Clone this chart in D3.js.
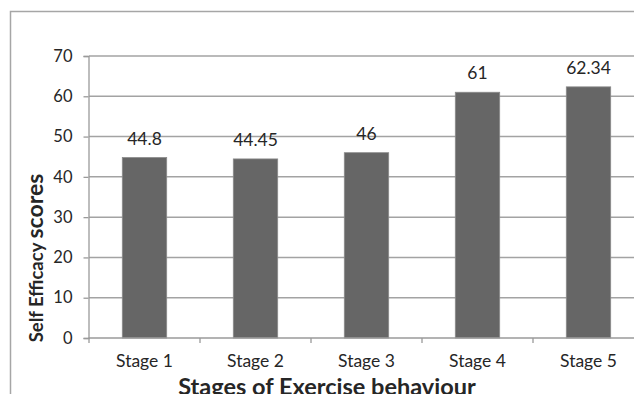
<!DOCTYPE html>
<html>
<head>
<meta charset="utf-8">
<script src="https://cdn.jsdelivr.net/npm/d3@7"></script>
<style>
  html, body { margin: 0; padding: 0; background: #fff; }
  svg { display: block; }
  text { font-family: Lato, "Liberation Sans", sans-serif; fill: #262626; }
</style>
</head>
<body>
<svg id="chart" width="634" height="394"></svg>
<script>
// Mean self-efficacy score for each stage of exercise behaviour
const stages = ["Stage 1", "Stage 2", "Stage 3", "Stage 4", "Stage 5"];
const scores = [44.8, 44.45, 46, 61, 62.34];
const scoreLabels = ["44.8", "44.45", "46", "61", "62.34"];
const yTicks = [0, 10, 20, 30, 40, 50, 60, 70];

const svg = d3.select("#chart");

// outer chart frame (runs off the right and bottom edges)
svg.append("rect")
  .attr("x", 10.5).attr("y", 11.5)
  .attr("width", 700).attr("height", 500)
  .attr("fill", "none")
  .attr("stroke", "#a6a6a6")
  .attr("stroke-width", 1.5);

const x = d3.scaleBand()
  .domain(stages)
  .range([89, 644])
  .paddingInner(0.6)
  .paddingOuter(0.3);

const y = d3.scaleLinear().domain([0, 70]).range([338, 56]);

// horizontal gridlines
svg.append("g").selectAll("line")
  .data(yTicks.filter(d => d > 0))
  .join("line")
  .attr("x1", 89).attr("x2", 644)
  .attr("y1", d => y(d)).attr("y2", d => y(d))
  .attr("stroke", "#a3a3a3")
  .attr("stroke-width", 1.5);

// y axis
const yAxis = svg.append("g")
  .attr("transform", "translate(88.5,0)")
  .call(d3.axisLeft(y).tickValues(yTicks).tickSize(5).tickPadding(11).tickFormat(d3.format("d")));
yAxis.select(".domain").attr("stroke", "#9a9a9a").attr("stroke-width", 1.3);
yAxis.selectAll(".tick line").attr("stroke", "#9a9a9a").attr("stroke-width", 1.3);
yAxis.selectAll(".tick text")
  .attr("font-size", 16.5)
  .attr("font-family", "Lato, 'Liberation Sans', sans-serif")
  .attr("fill", "#262626");

// bars
svg.append("g").selectAll("rect")
  .data(stages)
  .join("rect")
  .attr("x", d => x(d))
  .attr("width", x.bandwidth())
  .attr("y", (d, i) => y(scores[i]))
  .attr("height", (d, i) => y(0) - y(scores[i]))
  .attr("fill", "#666666")
  .attr("stroke", "#8a8a8a")
  .attr("stroke-width", 0.8);

// value labels above bars
svg.append("g").selectAll("text")
  .data(stages)
  .join("text")
  .attr("x", d => x(d) + x.bandwidth() / 2)
  .attr("y", (d, i) => y(scores[i]) - 13)
  .attr("text-anchor", "middle")
  .attr("font-size", 17.5)
  .text((d, i) => scoreLabels[i]);

// x axis with ticks at category boundaries
const xAxisG = svg.append("g");
xAxisG.append("line")
  .attr("x1", 88.5).attr("x2", 644)
  .attr("y1", y(0)).attr("y2", y(0))
  .attr("stroke", "#9a9a9a").attr("stroke-width", 1.5);
const step = x.step();
xAxisG.selectAll("line.tick")
  .data(d3.range(stages.length + 1))
  .join("line")
  .attr("class", "tick")
  .attr("x1", i => 89 + i * step).attr("x2", i => 89 + i * step)
  .attr("y1", y(0)).attr("y2", y(0) + 5)
  .attr("stroke", "#9a9a9a").attr("stroke-width", 1.3);
xAxisG.selectAll("text")
  .data(stages)
  .join("text")
  .attr("x", d => x(d) + x.bandwidth() / 2)
  .attr("y", 367)
  .attr("text-anchor", "middle")
  .attr("font-size", 17.5)
  .text(d => d);

// axis titles
svg.append("text")
  .attr("x", 327).attr("y", 395)
  .attr("text-anchor", "middle")
  .attr("font-size", 23.5)
  .attr("font-weight", "bold")
  .text("Stages of Exercise behaviour");

const yTitle = svg.append("text")
  .attr("transform", "translate(43,258) rotate(-90)")
  .attr("text-anchor", "middle")
  .attr("font-weight", "bold");
yTitle.append("tspan").attr("font-size", 18.5).text("Self Efficacy ");
yTitle.append("tspan").attr("font-size", 23).text("scores");
</script>
</body>
</html>
